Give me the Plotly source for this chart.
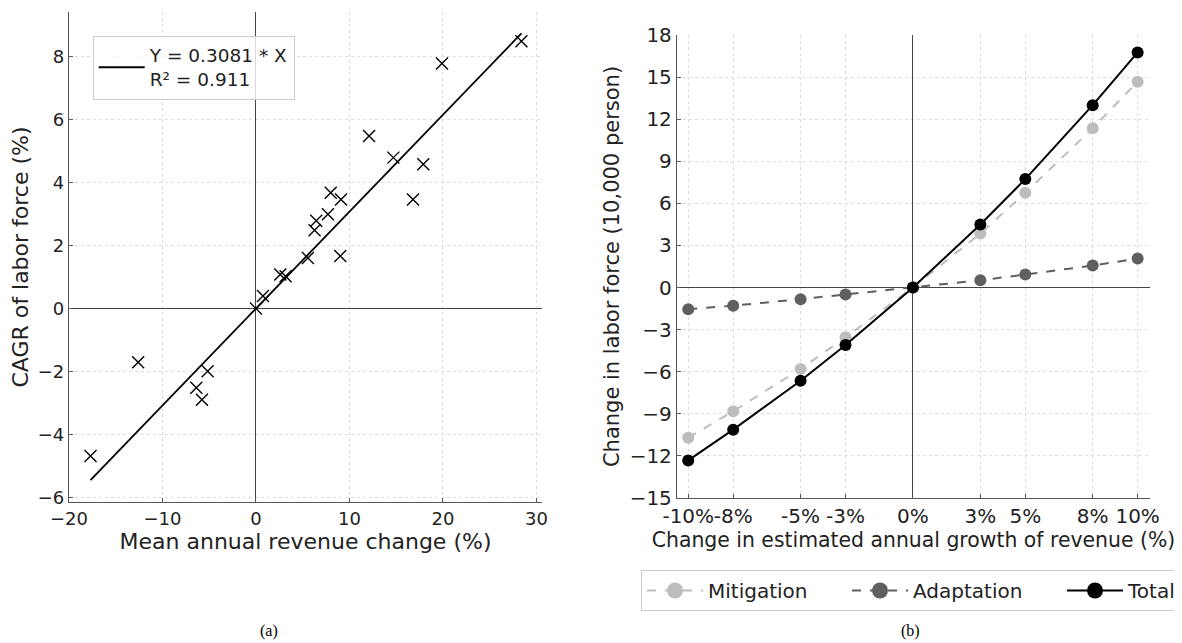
import plotly.graph_objects as go

# ---------------- Panel (a) data ----------------
rev_change = [28.4, 19.9, 12.1, 14.7, 17.9, 16.8, 8.0, 9.1, 7.7, 6.45, 6.27,
              5.56, 9.02, 2.6, 3.17, 0.75, 0.0, -12.6, -5.17, -6.38, -5.78, -17.7]
cagr_labor = [8.5, 7.79, 5.49, 4.80, 4.59, 3.47, 3.68, 3.47, 3.0, 2.79, 2.49,
              1.61, 1.67, 1.08, 1.03, 0.40, 0.0, -1.71, -1.99, -2.52, -2.90, -4.69]
fit_slope = 0.3081
fit_r2 = 0.911

# ---------------- Panel (b) data ----------------
growth_change = [-10, -8, -5, -3, 0, 3, 5, 8, 10]
growth_labels = ["-10%", "-8%", "-5%", "-3%", "0%", "3%", "5%", "8%", "10%"]
mitigation = [-10.70, -8.82, -5.80, -3.55, 0.0, 3.85, 6.75, 11.36, 14.67]
adaptation = [-1.55, -1.29, -0.83, -0.50, 0.0, 0.52, 0.93, 1.57, 2.07]
total = [-12.32, -10.13, -6.64, -4.09, 0.0, 4.49, 7.73, 13.0, 16.76]

# page body has an 8px margin; size the figure so it fits the 1182x643 window
OFF = 8
FW, FH = 1182 - OFF, 643 - OFF


def px(x):
    return (x - OFF) / FW


def py(y):
    return 1 - (y - OFF) / FH


FONT = "DejaVu Sans"
TXT = "#222222"
AXC = "#555555"
GRID = "#dedede"

fig = go.Figure()

# Panel (a): scatter + regression line
fit_x = [min(rev_change), max(rev_change)]
fit_y = [fit_slope * v for v in fit_x]
fig.add_trace(go.Scatter(
    x=fit_x, y=fit_y, mode="lines", line=dict(color="black", width=1.8),
    name=f"Y = {fit_slope} * X<br>R² = {fit_r2}", legend="legend",
    xaxis="x", yaxis="y", showlegend=True))
fig.add_trace(go.Scatter(
    x=rev_change, y=cagr_labor, mode="markers",
    marker=dict(symbol="x-thin", size=12, line=dict(color="black", width=1.4), color="black"),
    xaxis="x", yaxis="y", showlegend=False))

# Panel (b)
series_b = [
    ("Mitigation", mitigation, "#bdbdbd", "dash", 134),
    ("Adaptation", adaptation, "#5f5f5f", "dash", 144),
    ("Total", total, "black", "solid", None),
]
for name, vals, col, dash, lw in series_b:
    fig.add_trace(go.Scatter(
        x=growth_change, y=vals, mode="lines+markers", name=name,
        line=dict(color=col, width=2, dash=dash),
        marker=dict(size=12, color=col), xaxis="x2", yaxis="y2",
        showlegend=False))
# legend entries (larger symbols, as in the reference legend)
for name, vals, col, dash, lw in series_b:
    kw = dict(legendwidth=lw) if lw else {}
    fig.add_trace(go.Scatter(
        x=[None], y=[None], mode="lines+markers", name=name,
        line=dict(color=col, width=2, dash=dash),
        marker=dict(size=16, color=col), xaxis="x2", yaxis="y2",
        legend="legend2", showlegend=True, **kw))

common = dict(
    showgrid=True, gridcolor=GRID, griddash="dot", gridwidth=0.8,
    zeroline=True, zerolinecolor="#444444", zerolinewidth=1,
    showline=True, linecolor=AXC, linewidth=1.3, mirror=False,
    ticks="inside", ticklen=4, tickcolor=AXC, tickwidth=1,
    automargin=False, tickangle=0,
)

fig.update_layout(
    width=FW, height=FH,
    margin=dict(l=0, r=0, t=0, b=0, autoexpand=False),
    paper_bgcolor="white", plot_bgcolor="white",
    font=dict(family=FONT, color=TXT, size=18),
    xaxis=dict(domain=[px(69), px(542)], range=[-20, 30.6],
               tickvals=[-20, -10, 0, 10, 20, 30], tickfont=dict(size=18),
               title=dict(text="Mean annual revenue change (%)", font=dict(size=22), standoff=0),
               anchor="y", **common),
    yaxis=dict(domain=[py(502), py(12)], range=[-6.15, 9.43],
               tickvals=[-6, -4, -2, 0, 2, 4, 6, 8], tickfont=dict(size=18),
               title=dict(text="CAGR of labor force (%)", font=dict(size=22), standoff=6),
               anchor="x", **common),
    xaxis2=dict(domain=[px(677), px(1150)], range=[-10.5, 10.55],
                tickvals=growth_change, ticktext=growth_labels, tickfont=dict(size=20),
                title=dict(text="Change in estimated annual growth of revenue (%)",
                           font=dict(size=20.4), standoff=0),
                anchor="y2", **common),
    yaxis2=dict(domain=[py(498), py(35)], range=[-15, 18],
                tickvals=list(range(-15, 19, 3)), tickfont=dict(size=20),
                title=dict(text="Change in labor force (10,000 person)", font=dict(size=21), standoff=4),
                anchor="x2", **common),
    legend=dict(x=px(92.7), y=py(35.7), xanchor="left", yanchor="top",
                bgcolor="rgba(255,255,255,0.8)", bordercolor="#cccccc", borderwidth=1,
                font=dict(size=18.5), itemwidth=46, tracegroupgap=0),
    legend2=dict(x=px(641), y=py(570), xanchor="left", yanchor="top",
                 orientation="h", bgcolor="white", bordercolor="#cccccc", borderwidth=1,
                 font=dict(size=20), itemwidth=56, itemsizing="trace"),
    annotations=[
        dict(text="(a)", x=px(269), y=py(641), xref="paper", yref="paper",
             xanchor="center", yanchor="bottom", showarrow=False, borderpad=0,
             font=dict(family="Liberation Serif", size=16, color="black")),
        dict(text="(b)", x=px(910), y=py(641), xref="paper", yref="paper",
             xanchor="center", yanchor="bottom", showarrow=False, borderpad=0,
             font=dict(family="Liberation Serif", size=16, color="black")),
    ],
)

fig.write_html("out.html")
